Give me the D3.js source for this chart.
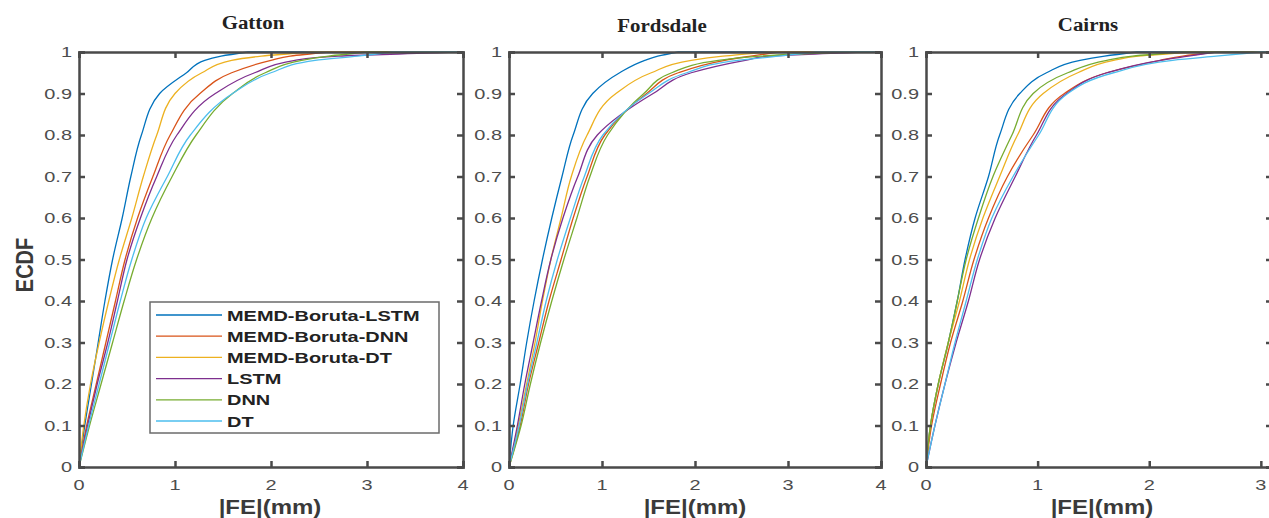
<!DOCTYPE html>
<html>
<script src="https://d3js.org/d3.v7.min.js"></script>
<style>
  body { margin: 0; background: white; }
  .tick-lbl { font-family: "Liberation Sans", Arial, sans-serif; font-size: 15px; fill: #4d4d4d; }
  .ax-lbl { font-family: "Liberation Sans", Arial, sans-serif; font-weight: bold; font-size: 20px; fill: #3a3a3a; }
  .ttl { font-family: "Liberation Serif", "Times New Roman", serif; font-weight: bold; font-size: 19px; fill: #222; }
  .leg { font-family: "Liberation Sans", Arial, sans-serif; font-weight: bold; font-size: 15px; fill: #222; }
</style>
<body>
<svg width="1269" height="518"></svg>
<script>
// model names and the MATLAB default colours
var series = ["MEMD-Boruta-LSTM", "MEMD-Boruta-DNN", "MEMD-Boruta-DT", "LSTM", "DNN", "DT"];
var colors = ["#0072BD", "#D95319", "#EDB120", "#7E2F8E", "#77AC30", "#4DBEEE"];

// ECDF levels, and the |FE| (mm) at each level (one row per model)
var probs = [0, 0.1, 0.2, 0.3, 0.4, 0.5, 0.6, 0.7, 0.8, 0.9, 0.95, 0.98, 0.99, 1];

var gatton = [
  [0, .06, .13, .20, .27, .35, .45, .54, .65, .84, 1.12, 1.31, 1.48, 1.76],
  [0, .08, .18, .28, .38, .48, .61, .77, .95, 1.26, 1.59, 2.0, 2.2, 2.6],
  [0, .05, .12, .21, .31, .42, .55, .67, .81, 1.0, 1.28, 1.59, 1.9, 2.42],
  [0, .09, .19, .30, .40, .50, .64, .81, 1.02, 1.42, 1.83, 2.25, 2.7, 3.97],
  [0, .11, .23, .35, .47, .60, .76, .97, 1.22, 1.6, 1.94, 2.32, 2.6, 3.0],
  [0, .10, .21, .32, .43, .55, .70, .92, 1.16, 1.6, 2.0, 2.46, 2.9, 3.27]
];
var fordsdale = [
  [0, .045, .12, .19, .27, .36, .46, .57, .69, .90, 1.19, 1.46, 1.6, 1.82],
  [0, .12, .21, .32, .43, .56, .69, .84, 1.03, 1.48, 1.82, 2.32, 2.6, 2.9],
  [0, .10, .19, .28, .36, .45, .56, .67, .84, 1.15, 1.53, 1.96, 2.3, 2.82],
  [0, .09, .17, .26, .35, .45, .58, .74, .95, 1.55, 1.96, 2.54, 2.8, 3.85],
  [0, .13, .23, .34, .46, .59, .73, .87, 1.06, 1.45, 1.75, 2.25, 2.7, 3.57],
  [0, .11, .20, .30, .40, .52, .66, .81, 1.01, 1.5, 1.91, 2.46, 2.9, 3.3]
];
var cairns = [
  [0, .04, .11, .20, .28, .35, .44, .56, .66, .84, 1.08, 1.38, 1.6, 1.89],
  [0, .05, .13, .22, .33, .43, .56, .73, .96, 1.24, 1.62, 2.1, 2.3, 2.6],
  [0, .04, .11, .20, .30, .39, .51, .66, .82, 1.05, 1.36, 1.68, 1.9, 2.4],
  [0, .08, .17, .27, .38, .48, .62, .80, .99, 1.26, 1.62, 2.1, 2.35, 2.6],
  [0, .04, .11, .20, .28, .36, .47, .60, .77, .96, 1.27, 1.62, 1.85, 2.3],
  [0, .08, .17, .26, .36, .46, .59, .78, 1.01, 1.27, 1.68, 2.21, 2.6, 3.0]
];

var stations = ["Gatton", "Fordsdale", "Cairns"];
var stationData = [gatton, fordsdale, cairns];
var xMax = [4, 4, 3.1];
var xTicks = [[0, 1, 2, 3, 4], [0, 1, 2, 3, 4], [0, 1, 2, 3]];
var yTicks = [0, 0.1, 0.2, 0.3, 0.4, 0.5, 0.6, 0.7, 0.8, 0.9, 1];

// panel boxes
var panels = [
  {left: 79, right: 463, titleX: 253, titleY: 29, labelX: 270},
  {left: 509, right: 881, titleX: 662, titleY: 32, labelX: 695},
  {left: 926, right: 1272, titleX: 1088, titleY: 31, labelX: 1102}
];
var yTop = 52, yBottom = 467;
var sx = 1.33;   // the figure is stretched sideways

var svg = d3.select("svg");
var y = d3.scaleLinear().domain([0, 1]).range([yBottom, yTop]);

function wideText(g, x, yy, txt, cls, anchor, sc) {
  return g.append("text")
    .attr("class", cls)
    .attr("text-anchor", anchor)
    .attr("transform", "translate(" + x + "," + yy + ") scale(" + sc + ",1)")
    .text(txt);
}

panels.forEach(function(p, i) {
  var x = d3.scaleLinear().domain([0, xMax[i]]).range([p.left, p.right]);
  var g = svg.append("g");

  g.append("clipPath").attr("id", "clip" + i)
    .append("rect").attr("x", p.left).attr("y", yTop - 2)
    .attr("width", p.right - p.left).attr("height", yBottom - yTop + 4);

  var line = d3.line()
    .curve(d3.curveMonotoneY)
    .x(function(d) { return x(d[0]); })
    .y(function(d) { return y(d[1]); });

  var lines = g.append("g").attr("clip-path", "url(#clip" + i + ")");
  stationData[i].forEach(function(row, k) {
    var pts = row.map(function(v, j) { return [v, probs[j]]; });
    var d = line(pts);
    // flat run to the right edge once the curve hits 1
    if (row[row.length - 1] < xMax[i]) d += "L" + x(xMax[i]) + "," + y(1);
    lines.append("path")
      .attr("d", d)
      .attr("fill", "none")
      .attr("stroke", colors[k])
      .attr("stroke-width", 1.3);
  });

  // box axes, ticks pointing inward like MATLAB
  var ax = d3.axisBottom(x).tickValues(xTicks[i]).tickSize(-6).tickFormat("");
  var axT = d3.axisTop(x).tickValues(xTicks[i]).tickSize(-6).tickFormat("");
  var ayL = d3.axisLeft(y).tickValues(yTicks).tickSize(-6).tickFormat("");
  var ayR = d3.axisRight(y).tickValues(yTicks).tickSize(-6).tickFormat("");
  [[ax, "translate(0," + yBottom + ")"], [axT, "translate(0," + yTop + ")"],
   [ayL, "translate(" + p.left + ",0)"], [ayR, "translate(" + p.right + ",0)"]].forEach(function(a) {
    var ag = g.append("g").attr("transform", a[1]).call(a[0]);
    ag.select(".domain").attr("stroke", "#4a4a4a").attr("stroke-width", 2.5);
    ag.selectAll(".tick line").attr("stroke", "#4a4a4a").attr("stroke-width", 2.5);
  });

  xTicks[i].forEach(function(t) {
    wideText(g, x(t), 490, d3.format("~g")(t), "tick-lbl", "middle", sx);
  });
  yTicks.forEach(function(t) {
    wideText(g, p.left - 7, y(t) + 5, d3.format("~g")(t), "tick-lbl", "end", sx);
  });

  wideText(g, p.titleX, p.titleY, stations[i], "ttl", "middle", 1.1);
  wideText(g, p.labelX, 514, "|FE|(mm)", "ax-lbl", "middle", 1.2);
});

// y label
svg.append("text")
  .attr("class", "ax-lbl")
  .attr("text-anchor", "middle")
  .attr("transform", "translate(33,265) rotate(-90) scale(1,1.2)")
  .text("ECDF");

// legend
var leg = svg.append("g");
leg.append("rect").attr("x", 150).attr("y", 302).attr("width", 289).attr("height", 131)
  .attr("fill", "white").attr("stroke", "#6b6b6b").attr("stroke-width", 1.5);
series.forEach(function(s, k) {
  var ly = 315 + k * 21.2;
  leg.append("line").attr("x1", 156).attr("x2", 222).attr("y1", ly).attr("y2", ly)
    .attr("stroke", colors[k]).attr("stroke-width", 1.3);
  wideText(leg, 227, ly + 5.5, s, "leg", "start", sx);
});
</script>
</body>
</html>
